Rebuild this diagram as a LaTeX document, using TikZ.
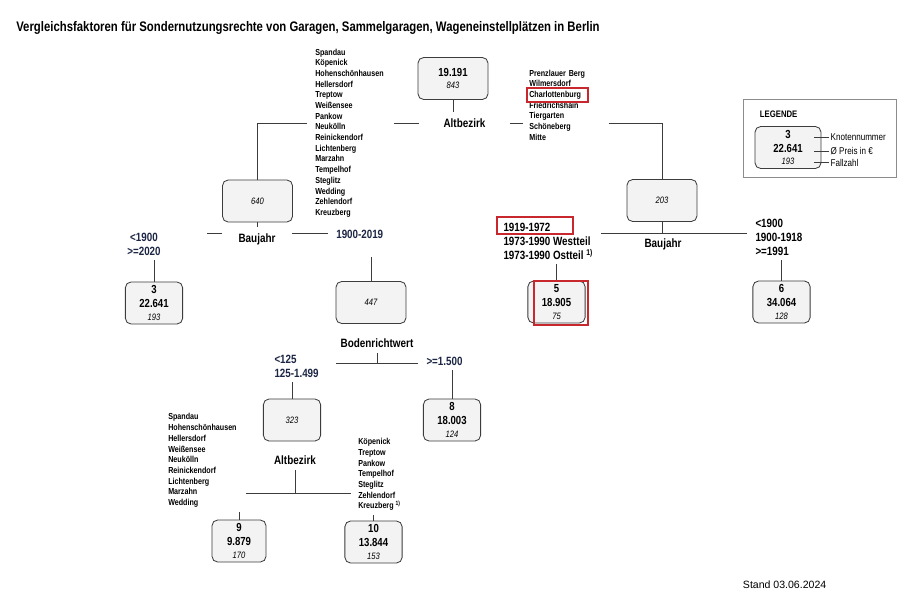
\documentclass[tikz,border=0pt]{standalone}
\usepackage{fontspec}
\setmainfont{Liberation Sans}[FakeStretch=0.82]
\newfontfamily\standfont{Liberation Sans}
\usetikzlibrary{calc}

\definecolor{linie}{RGB}{60,60,60}
\definecolor{kasten}{RGB}{243,243,243}
\definecolor{dunkelblau}{RGB}{28,38,68}
\definecolor{markrot}{RGB}{200,40,45}

\tikzset{
  knoten/.style={draw=linie, fill=kasten, rounded corners=4pt, line width=0.6pt, align=center,
    inner sep=0pt, minimum height=1.05cm, font=\fontsize{8.3}{10}\selectfont},
  breit/.style={knoten, minimum width=1.75cm},
  schmal/.style={knoten, minimum width=1.43cm},
  liste/.style={align=left, anchor=west, inner ysep=0pt, inner xsep=0pt, font=\fontsize{6.2}{7.6}\selectfont\bfseries},
  merkmal/.style={inner sep=0pt, font=\fontsize{8.6}{10}\selectfont\bfseries},
  wert/.style={align=left, anchor=west, inner sep=3pt, font=\fontsize{8.5}{9.9}\selectfont\bfseries},
  verbindung/.style={draw=linie, line width=0.6pt},
  rahmen/.style={draw=markrot, line width=1pt}
}
\newcommand{\fall}[1]{{\fontsize{6.6}{8}\selectfont\itshape #1}}

\begin{document}
\begin{tikzpicture}[x=0.025cm,y=-0.025cm]
    \useasboundingbox (0,0) rectangle (906,610);
    \node[anchor=west, inner sep=0pt, font=\fontsize{9.85}{12}\selectfont\bfseries] (titel) at (16,28)
      {Vergleichsfaktoren für Sondernutzungsrechte von Garagen, Sammelgaragen, Wageneinstellplätzen in Berlin}; % Titel

    % Knoten
    \node[breit] (wurzel) at (453,78.5) {\textbf{19.191}\\[-2pt]\fall{843}};
    \node[breit] (k640) at (257.5,201) {\fall{640}};
    \node[breit] (k203) at (662,200.5) {\fall{203}};
    \node[schmal] (k3) at (154,303) {\textbf{3}\\\textbf{22.641}\\[-1pt]\fall{193}};
    \node[breit] (k447) at (371,302.5) {\fall{447}};
    \node[schmal] (k5) at (556.5,302) {\textbf{5}\\\textbf{18.905}\\[-1pt]\fall{75}};
    \node[schmal] (k6) at (781.5,302) {\textbf{6}\\\textbf{34.064}\\[-1pt]\fall{128}};
    \node[schmal] (k323) at (292,420) {\fall{323}};
    \node[schmal] (k8) at (452,420) {\textbf{8}\\\textbf{18.003}\\[-1pt]\fall{124}};
    \node[schmal, minimum width=1.35cm] (k9) at (239,541) {\textbf{9}\\\textbf{9.879}\\[-1pt]\fall{170}};
    \node[schmal] (k10) at (373.5,542) {\textbf{10}\\\textbf{13.844}\\[-1pt]\fall{153}};

    % Altbezirk oben
    \node[merkmal, minimum width=2.25cm, minimum height=0.55cm] (alt1) at (464.5,123) {Altbezirk};
    \node[liste, inner xsep=5.7pt, text width=50pt] (links1) at (307,133)
      {Spandau\\Köpenick\\Hohenschönhausen\\Hellersdorf\\Treptow\\Weißensee\\Pankow\\Neukölln\\Reinickendorf\\Lichtenberg\\Marzahn\\Tempelhof\\Steglitz\\Wedding\\Zehlendorf\\Kreuzberg};
    \node[liste, inner xsep=4.3pt, text width=51.8pt] (rechts1) at (523,105)
      {Prenzlauer Berg\\Wilmersdorf\\Charlottenburg\\Friedrichshain\\Tiergarten\\Schöneberg\\Mitte};
    \draw[verbindung] (wurzel) -- (wurzel |- alt1.north);
    \draw[verbindung] (k640) |- (links1.west |- alt1);
    \draw[verbindung] (links1.east |- alt1) -- (alt1.west);
    \draw[verbindung] (alt1.east) -- (rechts1.west |- alt1);
    \draw[verbindung] (rechts1.east |- alt1) -| (k203);

    % Baujahr links
    \node[merkmal, minimum width=1.725cm, minimum height=0.6cm] (bj1) at (257,239) {Baujahr};
    \node[wert, text=dunkelblau, align=center, anchor=center] (w3) at (144,244) {<1900\\>=2020};
    \node[wert, text=dunkelblau, inner xsep=5.7pt] (w447) at (328,234) {1900-2019};
    \coordinate (h2) at (207,233);
    \coordinate (b447) at (371,257);
    \draw[verbindung] (k640) -- (k640 |- bj1.north);
    \draw[verbindung] (h2) -- (h2 -| bj1.west);
    \draw[verbindung] (bj1.east |- h2) -- (w447.west |- h2);
    \draw[verbindung] (k3) -- (k3 |- w3.south);
    \draw[verbindung] (k447) -- (b447);

    % Baujahr rechts
    \node[merkmal] (bj2) at (663,244) {Baujahr};
    \node[wert] (w5) at (499,241) {1919-1972\\1973-1990 Westteil\\1973-1990 Ostteil \textsuperscript{1)}};
    \node[wert] (w6) at (751,237.5) {<1900\\1900-1918\\>=1991};
    \coordinate (h4a) at (601,233);
    \coordinate (h4b) at (747,233);
    \draw[verbindung] (h4a) -- (h4b);
    \draw[verbindung] (k203) -- (k203 |- h4a);
    \draw[verbindung] (k5) -- (k5 |- w5.south);
    \draw[verbindung] (k6) -- (k6 |- w6.south);

    % Bodenrichtwert
    \node[merkmal, inner ysep=4pt] (brw) at (377,343) {Bodenrichtwert};
    \node[wert, text=dunkelblau] (w323) at (270,366) {<125\\125-1.499};
    \node[wert, text=dunkelblau] (w8) at (422,361) {>=1.500};
    \coordinate (h7a) at (336,363);
    \coordinate (h7b) at (418,363);
    \draw[verbindung] (h7a) -- (h7b);
    \draw[verbindung] (brw) -- (brw |- h7a);
    \draw[verbindung] (k323) -- (k323 |- w323.south);
    \draw[verbindung] (k8) -- (k8 |- w8.south);

    % Altbezirk unten
    \node[merkmal, inner ysep=4pt] (alt2) at (295,460) {Altbezirk};
    \node[liste, inner ysep=3pt] (links4) at (168,460.5)
      {Spandau\\Hohenschönhausen\\Hellersdorf\\Weißensee\\Neukölln\\Reinickendorf\\Lichtenberg\\Marzahn\\Wedding};
    \node[liste, inner ysep=3pt] (rechts4) at (358,474.5)
      {Köpenick\\Treptow\\Pankow\\Tempelhof\\Steglitz\\Zehlendorf\\Kreuzberg \textsuperscript{1)}};
    \coordinate (h9a) at (246,493);
    \coordinate (h9b) at (351,493);
    \draw[verbindung] (h9a) -- (h9b);
    \draw[verbindung] (alt2) -- (alt2 |- h9a);
    \draw[verbindung] (k9) -- (k9 |- links4.south);
    \draw[verbindung] (k10) -- (k10 |- rechts4.south);

    % rote Markierungen
    \draw[rahmen] (527,88) rectangle (588,102);
    \draw[rahmen] (497,217) rectangle (573,234);
    \draw[rahmen] (534,281) rectangle (588,325);

    % Legende
    \node[draw=black!45, line width=0.6pt, minimum width=3.825cm, minimum height=1.95cm, inner sep=0pt] (legende) at (819.5,138) {};
    \node[anchor=west, font=\fontsize{6.7}{8}\selectfont\bfseries] (legtitel) at (755,114) {LEGENDE};
    \node[knoten, minimum width=1.65cm] (lb) at (788,147.5) {\textbf{3}\\\textbf{22.641}\\[-1pt]\fall{193}};
    \node[anchor=west, inner sep=1pt, font=\fontsize{7}{8}\selectfont] (lk1) at (829,137) {Knotennummer};
    \node[anchor=west, inner sep=1pt, font=\fontsize{7}{8}\selectfont] (lk2) at (829,151) {Ø Preis in €};
    \node[anchor=west, inner sep=1pt, font=\fontsize{7}{8}\selectfont] (lk3) at (829,162.5) {Fallzahl};
    \draw[verbindung] (lk1.west) -- ++(-15,0);
    \draw[verbindung] (lk2.west) -- ++(-15,0);
    \draw[verbindung] (lk3.west) -- ++(-15,0);

    \node[anchor=west, font=\standfont\fontsize{7.5}{9}\selectfont] (stand) at (738,585) {Stand 03.06.2024}; % Stand
\end{tikzpicture}
\end{document}
